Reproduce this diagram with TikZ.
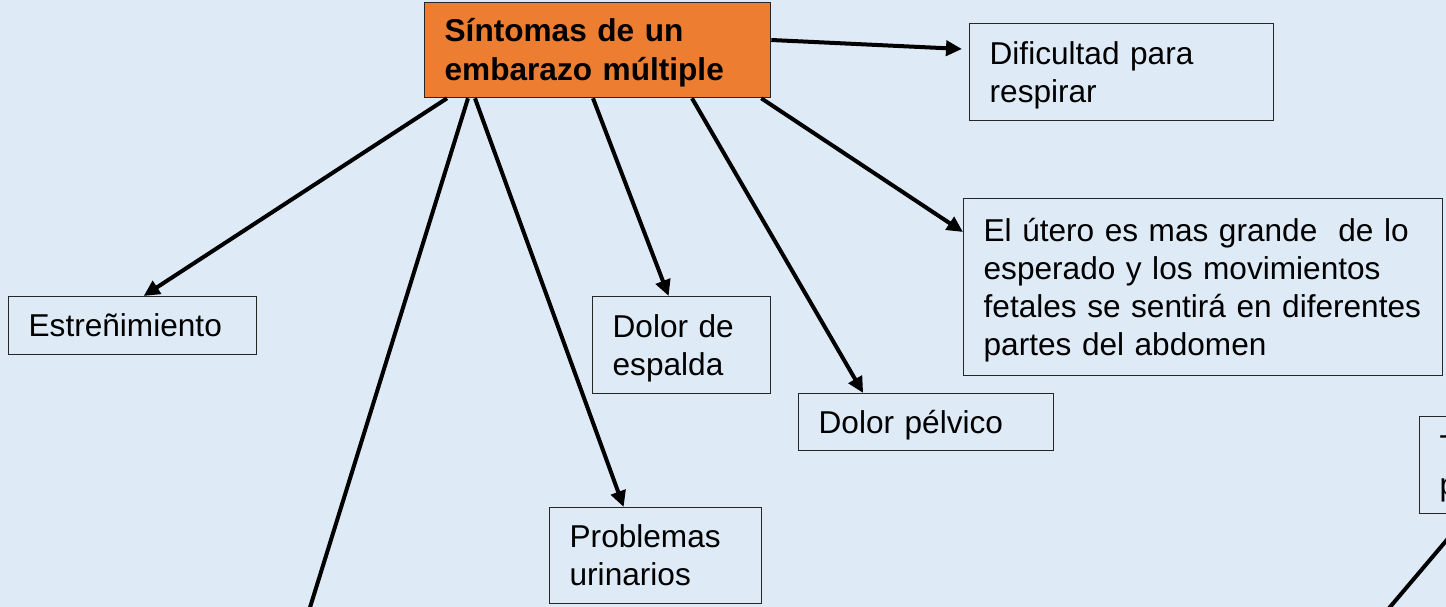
\documentclass[tikz,border=0pt]{standalone}
\usepackage{fontspec}
\setmainfont{Liberation Sans}
\usetikzlibrary{arrows.meta}
\definecolor{fondo}{RGB}{222,235,247}
\definecolor{naranja}{RGB}{237,125,49}
\newcommand{\alto}{\rule[-6.7pt]{0pt}{35.2pt}}

\begin{document}
\begin{tikzpicture}[x=1pt,y=-1pt,
    caja/.style={draw=black!85,line width=1.3pt,anchor=north west,align=left,
      inner xsep=20pt,inner ysep=0pt,font=\fontsize{31.6}{38}\selectfont},
    flecha/.style={line width=4pt,-{Triangle[length=16pt,width=15pt]}},
    linea/.style={line width=4pt}]

  \useasboundingbox (0,0) rectangle (1446,607);
  \clip (0,0) rectangle (1446,607);
  \fill[fondo] (0,0) rectangle (1446,607);

  \node[caja,fill=naranja,font=\bfseries\fontsize{31.6}{39}\selectfont,text width=306pt,minimum height=95pt] (sintomas) at (424,2) {\alto Síntomas de un\\\alto embarazo múltiple};

  \node[caja,text width=264pt,minimum height=97pt] (respirar) at (969,23) {\alto Dificultad para\\\alto respirar};
  \node[caja,text width=439pt,minimum height=177pt] (utero) at (963,198) {\alto El útero es mas grande\ \ de lo\\\alto esperado y los movimientos\\\alto\mbox{fetales se sentirá en diferentes}\\\alto partes del abdomen};
  \node[caja,text width=208pt,minimum height=58pt] (estrenimiento) at (8,296) {\alto Estreñimiento};
  \node[caja,text width=138pt,minimum height=97pt] (espalda) at (592,296) {\alto Dolor de\\\alto espalda};
  \node[caja,text width=215pt,minimum height=57pt] (pelvico) at (798,393) {\alto Dolor pélvico};
  \node[caja,text width=172pt,minimum height=96pt] (urinarios) at (549,507) {\alto Problemas\\\alto urinarios};
  \node[caja,text width=200pt,minimum height=97pt] (cortado) at (1419,416) {\alto T\\\alto p};

  \coordinate (abajo) at (303,630);
  \coordinate (abajoder) at (1379,620);

  \draw[flecha] ([yshift=-38pt]sintomas.north east) -- ([xshift=-7pt,yshift=-26pt]respirar.north west);
  \draw[flecha] ([xshift=-10pt]sintomas.south east) -- ([yshift=-34pt]utero.north west);
  \draw[flecha] ([xshift=268pt]sintomas.south west) -- ([xshift=-63pt]pelvico.north);
  \draw[flecha] ([xshift=169pt]sintomas.south west) -- ([xshift=-13pt]espalda.north);
  \draw[flecha] ([xshift=51pt]sintomas.south west) -- ([xshift=-32pt]urinarios.north);
  \draw[flecha] ([xshift=23pt]sintomas.south west) -- ([xshift=11pt]estrenimiento.north);
  \draw[linea] ([xshift=44pt]sintomas.south west) -- (abajo);
  \draw[linea] ([xshift=49.6pt]cortado.south west) -- (abajoder);

\end{tikzpicture}
\end{document}
